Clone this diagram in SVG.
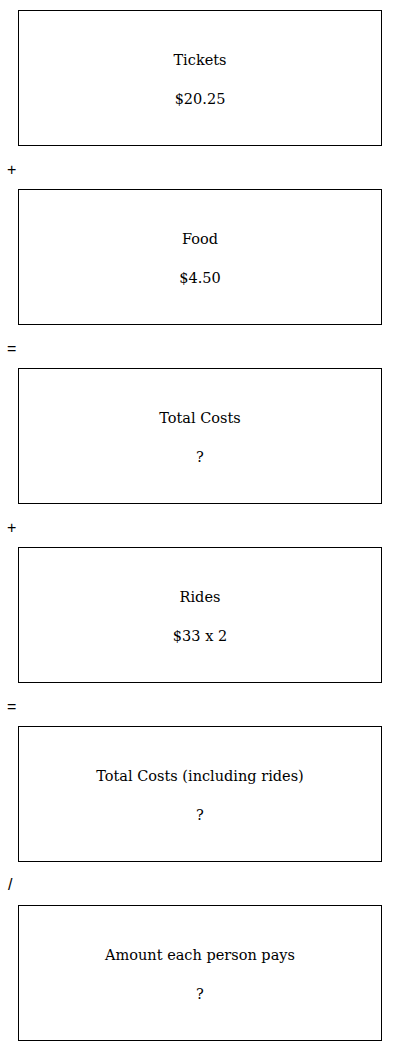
<svg xmlns="http://www.w3.org/2000/svg" width="400" height="1051" viewBox="0 0 400 1051">
<style>
rect.box{fill:#fff;stroke:#000;stroke-width:1}
text{font-family:"DejaVu Serif","Liberation Serif",serif;font-size:14.5px;fill:#000}
text.t{text-anchor:middle}
text.op{font-family:"Liberation Sans",Arial,sans-serif;font-size:16px}
</style>
<rect width="400" height="1051" fill="#fff"/>
<g id="connectors">
<text class="op" x="7" y="175">+</text>
<text class="op" x="7" y="354">=</text>
<text class="op" x="7" y="533">+</text>
<text class="op" x="7" y="712">=</text>
<text class="op" x="8" y="890">/</text>
</g>
<g id="tickets"><rect class="box" x="18.5" y="10.5" width="363" height="135"/><text class="t" x="200" y="65">Tickets</text><text class="t" x="200" y="104">$20.25</text></g>
<g id="food"><rect class="box" x="18.5" y="189.5" width="363" height="135"/><text class="t" x="200" y="244">Food</text><text class="t" x="200" y="283">$4.50</text></g>
<g id="total"><rect class="box" x="18.5" y="368.5" width="363" height="135"/><text class="t" x="200" y="423">Total Costs</text><text class="t" x="200" y="462">?</text></g>
<g id="rides"><rect class="box" x="18.5" y="547.5" width="363" height="135"/><text class="t" x="200" y="602">Rides</text><text class="t" x="200" y="641">$33 x 2</text></g>
<g id="total2"><rect class="box" x="18.5" y="726.5" width="363" height="135"/><text class="t" x="200" y="781">Total Costs (including rides)</text><text class="t" x="200" y="820">?</text></g>
<g id="each"><rect class="box" x="18.5" y="905.5" width="363" height="135"/><text class="t" x="200" y="960">Amount each person pays</text><text class="t" x="200" y="999">?</text></g>
</svg>
